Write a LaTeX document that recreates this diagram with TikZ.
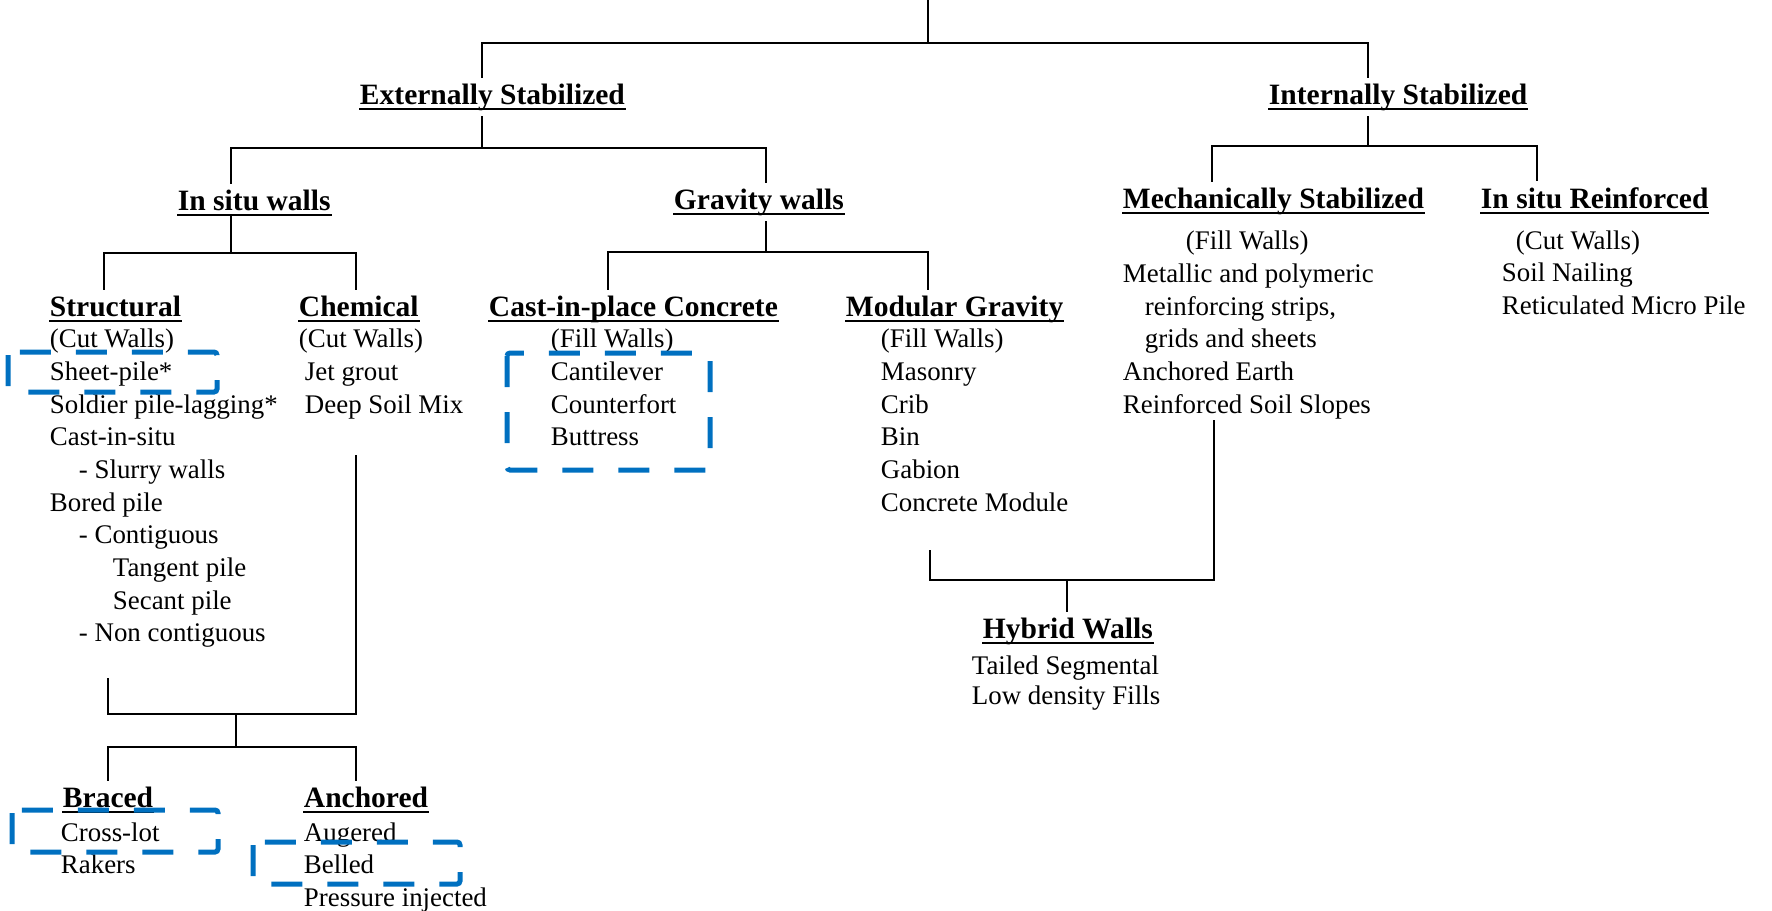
\documentclass[tikz,border=0pt]{standalone}
\usepackage{fontspec}
\setmainfont{Liberation Serif}
\usepackage{xcolor}
\definecolor{markblue}{HTML}{0070C0}
\tikzstyle{head}=[anchor=base west, inner sep=1mm, font=\fontsize{16.8}{20}\selectfont\bfseries]
\tikzstyle{items}=[anchor=north west, inner sep=0pt, align=left, font=\fontsize{15.3}{18.6}\selectfont]
\tikzstyle{hilite}=[draw=markblue, line width=1mm, dash pattern=on 6.2mm off 5mm, rounded corners=0.6mm]

\begin{document}
\begin{tikzpicture}[x=0.2mm, y=-0.2mm, line width=1.1pt]
\useasboundingbox (0,0) rectangle (1772,910);
% headings
\node[head] (ext) at (354,104) {Externally Stabilized};
\node[head] (int) at (1263,104) {Internally Stabilized};
\node[head] (insitu) at (172,210) {In situ walls};
\node[head] (grav) at (668,209) {Gravity walls};
\node[head] (mech) at (1117,208) {Mechanically Stabilized};
\node[head] (reinf) at (1475,208) {In situ Reinforced};
\node[head] (struct) at (44,316) {Structural};
\node[head] (chem) at (293,316) {Chemical};
\node[head] (cast) at (483,316) {Cast-in-place Concrete};
\node[head] (modu) at (840,316) {Modular Gravity};
\node[head] (braced) at (57,807) {Braced};
\node[head] (anch) at (298,807) {Anchored};
\node[head] (hybrid) at (977,638) {Hybrid Walls};
% underlines
\foreach \n in {ext,int,insitu,grav,mech,reinf,struct,chem,cast,modu,braced,anch,hybrid}
 \draw[line width=1pt] ([xshift=1mm,yshift=-1mm]\n.base west) -- ([xshift=-1mm,yshift=-1mm]\n.base east);
% lists
\node[items] (structL) at (49,328) {(Cut Walls)\\Sheet-pile*\\Soldier pile-lagging*\\Cast-in-situ\\
  \hspace*{5.8mm}- Slurry walls\\Bored pile\\\hspace*{5.8mm}- Contiguous\\\hspace*{12.6mm}Tangent pile\\
  \hspace*{12.6mm}Secant pile\\\hspace*{5.8mm}- Non contiguous};
\node[items] (chemL) at (298,328) {(Cut Walls)\\\hspace*{1.2mm}Jet grout\\\hspace*{1.2mm}Deep Soil Mix};
\node[items] (castL) at (550,328) {(Fill Walls)\\Cantilever\\Counterfort\\Buttress};
\node[items] (moduL) at (880,328) {(Fill Walls)\\Masonry\\Crib\\Bin\\Gabion\\Concrete Module};
\node[items] (mechL) at (1122,230) {\hspace*{12.6mm}(Fill Walls)\\
  Metallic and polymeric\\\hspace*{4.4mm}reinforcing strips,\\\hspace*{4.4mm}grids and sheets\\
  Anchored Earth\\Reinforced Soil Slopes};
\node[items] (reinfL) at (1501,229.5) {\hspace*{2.8mm}(Cut Walls)\\Soil Nailing\\Reticulated Micro Pile};
\node[items] (bracedL) at (60,821.5) {Cross-lot\\Rakers};
\node[items] (anchL) at (303,821.5) {Augered\\Belled\\Pressure injected};
\node[items, font=\fontsize{15.3}{17}\selectfont] (hybridL) at (971,654.5) {Tailed Segmental\\Low density Fills};
% connectors
\coordinate (top) at (928,0);
\coordinate (structEnd) at (108,678);
\coordinate (chemEnd) at (356,455);
\coordinate (moduEnd) at (930,550);
\coordinate (mechEnd) at (1214,420);
\draw (top) -- (928,43);
\draw (ext.north -| 482,0) |- (1368,43) -- (int.north -| 1368,0);
\foreach \p/\px/\y/\a/\ax/\b/\bx in {ext/482/148/insitu/231/grav/766, int/1368/146/mech/1212/reinf/1537,
  insitu/231/253/struct/104/chem/356, grav/766/252/cast/608/modu/928} {
 \draw (\p.south -| \px,0) -- (\px,\y);
 \draw (\a.north -| \ax,0) |- (\bx,\y) -- (\b.north -| \bx,0);
}
\draw (structEnd) |- (356,714) -- (chemEnd);
\draw (236,714) -- (236,747);
\draw (braced.north -| 108,0) |- (356,747) -- (anch.north -| 356,0);
\draw (moduEnd) |- (1214,580) -- (mechEnd);
\draw (1067,580) -- (hybrid.north -| 1067,0);
% blue marks
\draw[hilite] (8,352) rectangle (217,392);
\draw[hilite] (507,353) rectangle (710,470);
\draw[hilite] (12,810) rectangle (218,852);
\draw[hilite] (253,842) rectangle (460,884);
\end{tikzpicture}
\end{document}
